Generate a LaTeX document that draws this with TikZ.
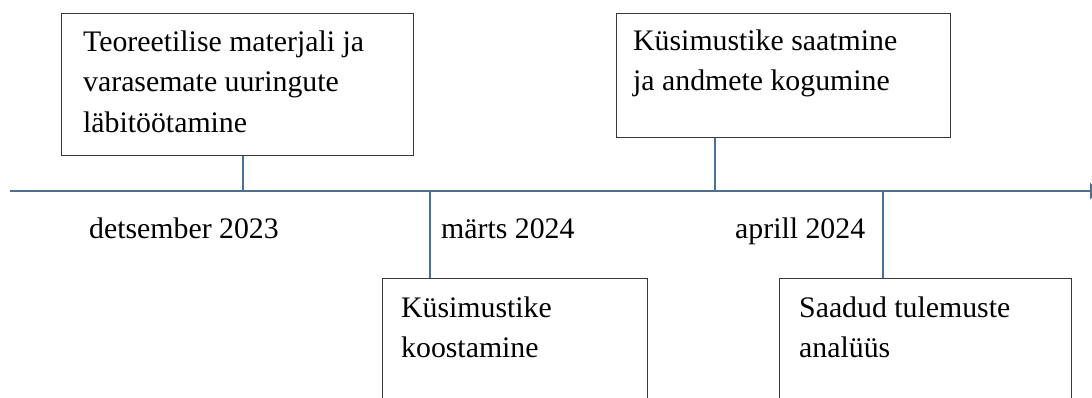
\documentclass[tikz,border=0pt]{standalone}
\usepackage{fontspec}
\setmainfont{Liberation Serif}
\usetikzlibrary{arrows.meta}
\definecolor{tlblue}{HTML}{44729A}
\definecolor{boxline}{HTML}{3A3A3A}
\tikzset{
  stagebox/.style={draw=boxline, line width=1.3pt, rectangle, anchor=north west, inner sep=0pt, fill=white},
  stagetext/.style={anchor=north west, inner sep=0pt, align=left, font=\fontsize{29.8}{40.5}\selectfont},
  datetext/.style={anchor=base west, inner sep=0pt, font=\fontsize{29.8}{40.5}\selectfont},
  linkline/.style={draw=tlblue, line width=1.2pt},
  axisline/.style={draw=tlblue, line width=1.6pt}
}
\begin{document}
\begin{tikzpicture}[x=1pt,y=-1pt]
\useasboundingbox (0,0) rectangle (1092,398);
\clip (0,0) rectangle (1092,398);
\fill[white] (0,0) rectangle (1092,398);

% timeline
\coordinate (tstart) at (10,191);
\coordinate (tend) at (1100,191);
\draw[axisline, -{Triangle[length=10pt,width=16pt]}] (tstart) -- (tend);

% boxes
\node[stagebox, minimum width=352pt, minimum height=142pt] (b1) at (61,13) {};
\node[stagebox, minimum width=334pt, minimum height=124pt] (b4) at (616,13) {};
\node[stagebox, minimum width=265pt, minimum height=160pt] (b2) at (382,278) {};
\node[stagebox, minimum width=292pt, minimum height=160pt] (b3) at (779,278) {};

% texts
\node[stagetext] (t1) at (83,22.65) {\strut Teoreetilise materjali ja\\varasemate uuringute\\läbitöötamine};
\node[stagetext] (t4) at (633,21.65) {\strut Küsimustike saatmine\\ja andmete kogumine};
\node[stagetext] (t2) at (401,288.65) {\strut Küsimustike\\koostamine};
\node[stagetext] (t3) at (799,288.65) {\strut Saadud tulemuste\\analüüs};

% dates
\node[datetext] (d1) at (89,239) {detsember 2023};
\node[datetext] (d2) at (441,238) {märts 2024};
\node[datetext] (d3) at (735,238) {aprill 2024};

% connectors
\coordinate (c1) at (243,191);
\coordinate (c2) at (430,191);
\coordinate (c3) at (715,191);
\coordinate (c4) at (883,191);
\draw[linkline] (c1 |- b1.south) -- (c1);
\draw[linkline] (c2) -- (c2 |- b2.north);
\draw[linkline] (c3 |- b4.south) -- (c3);
\draw[linkline] (c4) -- (c4 |- b3.north);
\end{tikzpicture}
\end{document}
